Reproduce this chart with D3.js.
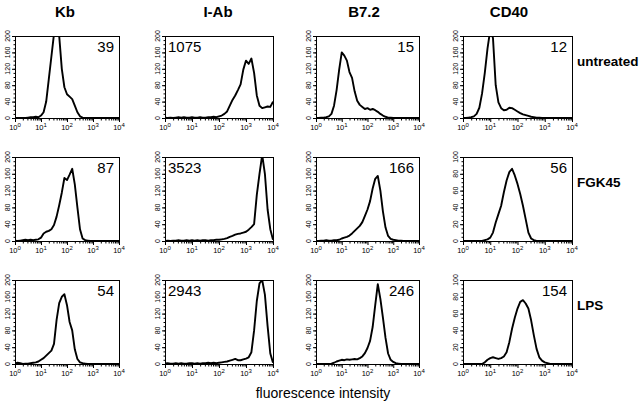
<!DOCTYPE html>
<html><head><meta charset="utf-8">
<script src="https://cdn.jsdelivr.net/npm/d3@7"></script>
<style>body{margin:0;background:#fff}svg{display:block}</style>
</head><body><svg id="c" width="640" height="405"></svg>
<script>
// ---- data ----
const markers = ["Kb", "I-Ab", "B7.2", "CD40"];
const treatments = ["untreated", "FGK45", "LPS"];
const axisTitle = "fluorescence intensity";
// channel positions in decades (log10 of fluorescence)
const logChannel = [0,0.1,0.2,0.3,0.4,0.5,0.6,0.7,0.8,0.9,1.0,1.1,1.2,1.3,1.4,1.5,1.6,1.7,1.8,1.9,2.0,2.1,2.2,2.3,2.4,2.5,2.6,2.7,2.8,2.9,3.0,3.1,3.2,3.3,3.4,3.5,3.6,3.7,3.8,3.9,4.0];
const xTickExponents = [0, 1, 2, 3, 4];
const yTicks200 = [0, 40, 80, 120, 160, 200];
const yTicks100 = [0, 20, 40, 60, 80, 100];

const kbUntreated   = [0,0,0,0,0,1,2,2,3,2, 6,14,40,95,150,205,215,200,120,75, 58,52,46,30,14,4,1,0,0,0, 0,0,0,0,0,0,0,0,0,0, 0];
const iabUntreated  = [1,0,1,0,1,2,1,2,1,1, 2,1,1,2,1,1,2,2,3,2, 4,6,10,16,30,44,55,68,82,118, 140,132,145,110,55,30,24,26,28,27, 40];
const b72Untreated  = [0,0,1,1,2,4,10,30,68,118, 160,152,140,112,98,65,42,32,27,22, 24,20,22,19,15,10,6,3,1,1, 0,0,0,0,0,0,0,0,0,0, 0];
const cd40Untreated = [0,0,1,2,4,10,25,60,110,170, 215,195,80,38,24,19,20,25,24,20, 16,12,9,7,5,3,2,1,1,0, 0,0,0,0,0,0,0,0,0,0, 0];

const kbFgk45   = [1,0,1,2,3,2,3,2,3,4, 8,18,22,24,28,38,58,85,115,150, 145,158,172,135,80,28,6,2,1,0, 0,0,0,0,0,0,0,0,0,0, 0];
const iabFgk45  = [0,1,0,1,1,2,1,1,2,1, 2,1,2,1,2,2,1,2,2,3, 3,4,5,7,10,12,15,17,18,20, 22,27,33,40,110,160,205,160,75,28, 3];
const b72Fgk45  = [0,0,1,1,2,1,1,2,2,3, 6,8,10,13,18,24,30,36,45,60, 75,95,125,148,155,120,70,32,12,5, 3,2,1,1,0,0,0,0,0,0, 0];
const cd40Fgk45 = [0,0,0,0,0,0,0,0,1,2, 4,10,22,32,42,58,72,82,86,78, 68,56,42,26,10,3,1,0,0,0, 0,0,0,0,0,0,0,0,0,0, 0];

const kbLps   = [1,3,2,0,1,1,2,3,4,6, 10,14,20,26,32,48,105,145,160,166, 140,100,80,35,12,4,2,1,0,0, 0,0,0,0,0,0,0,0,0,0, 0];
const iabLps  = [1,2,1,1,2,1,2,1,1,2, 2,1,2,1,2,2,3,2,3,2, 3,4,5,6,8,10,12,9,9,11, 13,16,28,80,150,192,200,165,90,25, 3];
const b72Lps  = [0,0,0,0,0,0,1,3,6,8, 10,9,11,10,11,12,11,14,18,26, 38,55,88,140,190,155,110,62,25,10, 5,2,1,0,0,0,0,0,0,0, 0];
const cd40Lps = [0,0,0,0,0,0,0,0,2,5, 7,8,7,6,7,9,14,26,42,55, 66,74,76,72,66,52,34,18,8,4, 2,1,0,0,0,0,0,0,0,0, 0];

const histograms = [
  [kbUntreated, iabUntreated, b72Untreated, cd40Untreated],
  [kbFgk45, iabFgk45, b72Fgk45, cd40Fgk45],
  [kbLps, iabLps, b72Lps, cd40Lps]
];
const meanFluorescence = [[39, 1075, 15, 12], [87, 3523, 166, 56], [54, 2943, 246, 154]];
const yMaxima = [[200, 200, 200, 200], [200, 200, 200, 100], [200, 200, 200, 100]];

// ---- layout ----
const colLeft = [15, 165, 316, 463], colRight = [119, 273, 419, 572];
const rowTop = [36, 157, 280], rowBottom = [118, 241, 364];
const titleX = [65, 218, 364, 509];
const FONT = "'Liberation Sans', Arial, Helvetica, sans-serif";

const svg = d3.select("#c").style("font-family", FONT);

markers.forEach((m, ci) => {
  svg.append("text").attr("x", titleX[ci]).attr("y", 17).attr("text-anchor", "middle")
    .attr("font-size", 15).attr("font-weight", "bold").text(m);
});
treatments.forEach((t, ri) => {
  svg.append("text").attr("x", 577).attr("y", rowTop[ri] + 30).attr("font-size", 13.5)
    .attr("font-weight", "bold").text(t);
});
svg.append("text").attr("x", 323).attr("y", 398).attr("text-anchor", "middle")
  .attr("font-size", 14).text(axisTitle);

histograms.forEach((row, ri) => row.forEach((vals, ci) => {
  const x = d3.scaleLog().domain([1, 1e4]).range([colLeft[ci], colRight[ci]]);
  const ymax = yMaxima[ri][ci];
  const y = d3.scaleLinear().domain([0, ymax]).range([rowBottom[ri], rowTop[ri]]);
  const g = svg.append("g");
  const id = "clip" + ri + "_" + ci;
  svg.append("clipPath").attr("id", id).append("rect")
    .attr("x", colLeft[ci]).attr("y", rowTop[ri])
    .attr("width", colRight[ci] - colLeft[ci]).attr("height", rowBottom[ri] - rowTop[ri]);

  const line = d3.line().x((d, i) => x(Math.pow(10, logChannel[i]))).y(d => y(d));
  g.append("path").datum(vals).attr("d", line).attr("fill", "none")
    .attr("stroke", "#000").attr("stroke-width", 1.9).attr("stroke-linejoin", "round")
    .attr("clip-path", `url(#${id})`);

  g.append("rect").attr("x", colLeft[ci] + 0.5).attr("y", rowTop[ri] + 0.5)
    .attr("width", colRight[ci] - colLeft[ci]).attr("height", rowBottom[ri] - rowTop[ri])
    .attr("fill", "none").attr("stroke", "#000").attr("stroke-width", 1);

  // y axis
  const yt = ymax === 200 ? yTicks200 : yTicks100;
  const minorStep = ymax / 20;
  const yMinor = d3.range(0, ymax + 0.001, minorStep);
  g.append("g").attr("transform", `translate(${colLeft[ci] + 0.5},0)`)
    .call(d3.axisLeft(y).tickValues(yMinor).tickSize(2).tickFormat(""))
    .call(a => a.select(".domain").remove());
  g.append("g").attr("transform", `translate(${colLeft[ci] + 0.5},0)`)
    .call(d3.axisLeft(y).tickValues(yt).tickSize(3.5).tickFormat(""))
    .call(a => a.select(".domain").remove());
  yt.forEach(v => {
    g.append("text").attr("transform", `translate(${colLeft[ci] - 5},${y(v)}) rotate(-90)`)
      .attr("text-anchor", "middle").attr("font-size", 7).text(v);
  });

  // x axis
  const xMinor = [];
  xTickExponents.slice(0, -1).forEach(e => { for (let k = 2; k <= 9; k++) xMinor.push(k * Math.pow(10, e)); });
  g.append("g").attr("transform", `translate(0,${rowBottom[ri] + 0.5})`)
    .call(d3.axisBottom(x).tickValues(xMinor).tickSize(2).tickFormat(""))
    .call(a => a.select(".domain").remove());
  g.append("g").attr("transform", `translate(0,${rowBottom[ri] + 0.5})`)
    .call(d3.axisBottom(x).tickValues(xTickExponents.map(e => Math.pow(10, e))).tickSize(3.5).tickFormat(""))
    .call(a => a.select(".domain").remove());
  xTickExponents.forEach(e => {
    const t = g.append("text").attr("x", x(Math.pow(10, e))).attr("y", rowBottom[ri] + 12)
      .attr("text-anchor", "middle").attr("font-size", 7.5);
    t.append("tspan").text("10");
    t.append("tspan").attr("dy", -3).attr("font-size", 6).text(e);
  });

  // MFI value
  const left = ci === 1;
  g.append("text").attr("x", left ? colLeft[ci] + 3 : colRight[ci] - 5)
    .attr("y", rowTop[ri] + 16).attr("text-anchor", left ? "start" : "end")
    .attr("font-size", 15).text(meanFluorescence[ri][ci]);
}));
</script></body></html>
